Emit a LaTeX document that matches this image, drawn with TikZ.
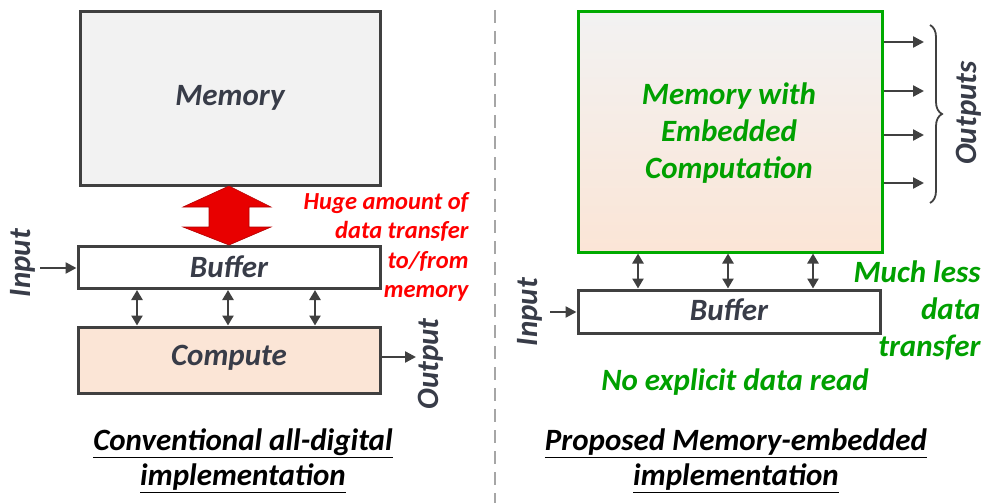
\documentclass[tikz,border=0pt]{standalone}
\usepackage{fontspec}
\setmainfont{Carlito}
\usetikzlibrary{arrows.meta,decorations.pathreplacing}
\definecolor{boxline}{HTML}{404040}
\definecolor{txt}{HTML}{383C48}
\definecolor{memgray}{HTML}{F2F2F2}
\definecolor{peach}{HTML}{FBE5D6}
\definecolor{gr}{RGB}{0,160,0}
\definecolor{grline}{RGB}{0,170,0}
\definecolor{redfill}{HTML}{E80000}
\tikzset{
  blk/.style={draw=boxline,line width=3pt,minimum width=#1,inner sep=0pt},
  lbl/.style={font=\fontsize{31}{34}\selectfont\bfseries\itshape,text=txt},
  arr/.style={draw=boxline,line width=2.4pt,-{Triangle[length=11pt,width=11pt]}},
  darr/.style={draw=boxline,line width=2.4pt,{Triangle[length=10pt,width=11pt]}-{Triangle[length=10pt,width=11pt]}},
  redtxt/.style={font=\fontsize{24.5}{29.5}\selectfont\bfseries\itshape,text=red,align=right},
  grtxt/.style={font=\fontsize{31}{37}\selectfont\bfseries\itshape,text=gr},
  captxt/.style={font=\fontsize{31}{35}\selectfont\bfseries\itshape,text=black,align=center},
}
\begin{document}
\begin{tikzpicture}[x=1pt,y=-1pt]
\useasboundingbox (0,0) rectangle (990,503);
% left side
\node[blk=300pt,minimum height=173pt,fill=memgray] (lmem) at (230,98.5) {};
\node[lbl] (lmemt) at (230,98) {Memory};
\node[blk=302pt,minimum height=42pt,fill=white] (lbuf) at (229,267.5) {};
\node[lbl] (lbuft) at (229,267) {Buffer};
\node[blk=302pt,minimum height=66pt,fill=peach] (lcomp) at (229,360) {};
\node[lbl] (lcompt) at (229,358) {Compute};
% red double arrow
\fill[redfill,draw=red!70!black,line width=0.6pt]
  (229,186) -- (271,207) -- (249,207) -- (249,227) -- (271,227) -- (229,245)
  -- (183,227) -- (209,227) -- (209,207) -- (183,207) -- cycle;
\node[redtxt,anchor=east] (huge) at (472,247) {Huge amount of\\data transfer\\to/from\\memory};
% buffer-compute arrows
\foreach \x in {137,228,315}{
  \draw[darr] (lbuf.south -| \x,0) -- (lcomp.north -| \x,0);
}
% input / output left
\coordinate (lin) at (40,268);
\draw[arr] (lin) -- (lbuf.west |- lin);
\node[lbl,rotate=90] (lint) at (23,263) {Input};
\coordinate (lout) at (416,357);
\draw[arr] (lcomp.east |- lout) -- (lout);
\node[lbl,rotate=90] (loutt) at (431,364) {Output};
% dashed divider
\coordinate (dtop) at (495,10);
\coordinate (dbot) at (495,503);
\draw[gray!70,line width=1.2pt,dash pattern=on 13pt off 8pt] (dtop) -- (dbot);
% captions
\node[captxt] (lcap) at (243,461) {\underline{Conventional all-digital}\\\underline{implementation}};
\node[captxt] (rcap) at (736,461) {\underline{Proposed Memory-embedded}\\\underline{implementation}};
% right side
\shade[top color=memgray,bottom color=peach] (578,12) rectangle (882,252);
\node[draw=grline,line width=3pt,minimum width=304pt,minimum height=240pt,inner sep=0pt] (rmem) at (730,132) {};
\node[grtxt,align=center] (rmemt) at (729,133) {Memory with\\Embedded\\Computation};
\node[blk=302pt,minimum height=43pt,fill=white] (rbuf) at (729,311.5) {};
\node[lbl] (rbuft) at (729,310) {Buffer};
\foreach \x in {638,728,813}{
  \draw[darr] (rmem.south -| \x,0) -- (rbuf.north -| \x,0);
}
\coordinate (rin) at (550,312);
\draw[arr] (rin) -- (rbuf.west |- rin);
\node[lbl,rotate=90] (rint) at (530,312) {Input};
\foreach \y/\n in {42/1,91/2,135/3,183/4}{
  \coordinate (o\n) at (924,\y);
  \draw[arr] (rmem.east |- o\n) -- (o\n);
}
\coordinate (btop) at (930,25);
\coordinate (bbot) at (930,203);
\draw[boxline,line width=1.8pt,decorate,decoration={brace,amplitude=12pt,raise=0pt}] (btop) -- (bbot);
\node[lbl,rotate=90] (outs) at (969,113) {Outputs};
\node[grtxt,align=right,anchor=east] (much) at (984,310) {Much less\\data\\transfer};
\node[grtxt] (noex) at (735,382) {No explicit data read};
\end{tikzpicture}
\end{document}
